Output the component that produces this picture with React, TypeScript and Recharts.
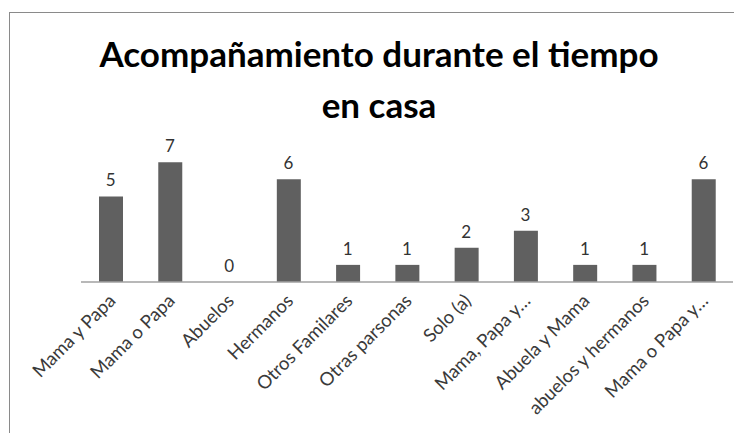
import React from "react";
import { ComposedChart, Bar, Line, XAxis, YAxis, LabelList } from "recharts";

const categories = [
  "Mama y Papa",
  "Mama o Papa",
  "Abuelos",
  "Hermanos",
  "Otros Familares",
  "Otras parsonas",
  "Solo (a)",
  "Mama, Papa y…",
  "Abuela y Mama",
  "abuelos y hermanos",
  "Mama o Papa y…",
];
const values = [5, 7, 0, 6, 1, 1, 2, 3, 1, 1, 6];
const titleLines = ["Acompañamiento durante el tiempo", "en casa"];

const data = categories.map((c, i) => ({ name: c, value: values[i] }));

const FONT = "Lato, 'Open Sans', sans-serif";

const Tick = (props: any) => {
  const { x, y, payload } = props;
  return (
    <g transform={`translate(${x + 6},${y + 12})`}>
      <text
        x={0}
        y={0}
        textAnchor="end"
        transform="rotate(-45)"
        fontFamily={FONT}
        fontSize={18.5}
        fill="#3a3a3a"
      >
        {payload.value}
      </text>
    </g>
  );
};

export default function App() {
  return (
    <div style={{ position: "relative", width: 726, height: 425, overflow: "hidden", background: "#fff" }}>
      <div
        style={{
          position: "absolute",
          left: 1,
          top: 4,
          width: 900,
          height: 600,
          border: "1px solid #8a8a8a",
          boxSizing: "border-box",
        }}
      />
      <div
        style={{
          position: "absolute",
          left: 0,
          top: 20,
          width: 742,
          textAlign: "center",
          fontFamily: FONT,
          fontWeight: 700,
          fontSize: 35,
          lineHeight: "51px",
          color: "#000",
        }}
      >
        {titleLines.map((t, i) => (
          <div key={i}>{t}</div>
        ))}
      </div>
      <div style={{ position: "absolute", left: 0, top: 0 }}>
        <ComposedChart
          width={726}
          height={425}
          data={data}
          margin={{ top: 137, right: 1, bottom: 0, left: 73 }}
        >
          <YAxis hide domain={[0, 8]} />
          <XAxis
            dataKey="name"
            interval={0}
            height={151}
            tickLine={false}
            axisLine={{ stroke: "#a0a0a0", strokeWidth: 1.5 }}
            tick={<Tick />}
          />
          <Bar dataKey="value" fill="#606060" barSize={24} isAnimationActive={false} />
          <Line
            dataKey="value"
            stroke="none"
            dot={false}
            activeDot={false}
            legendType="none"
            isAnimationActive={false}
          >
            <LabelList
              dataKey="value"
              position="top"
              offset={10}
              fontFamily={FONT}
              fontSize={17}
              fill="#333"
            />
          </Line>
        </ComposedChart>
      </div>
    </div>
  );
}
